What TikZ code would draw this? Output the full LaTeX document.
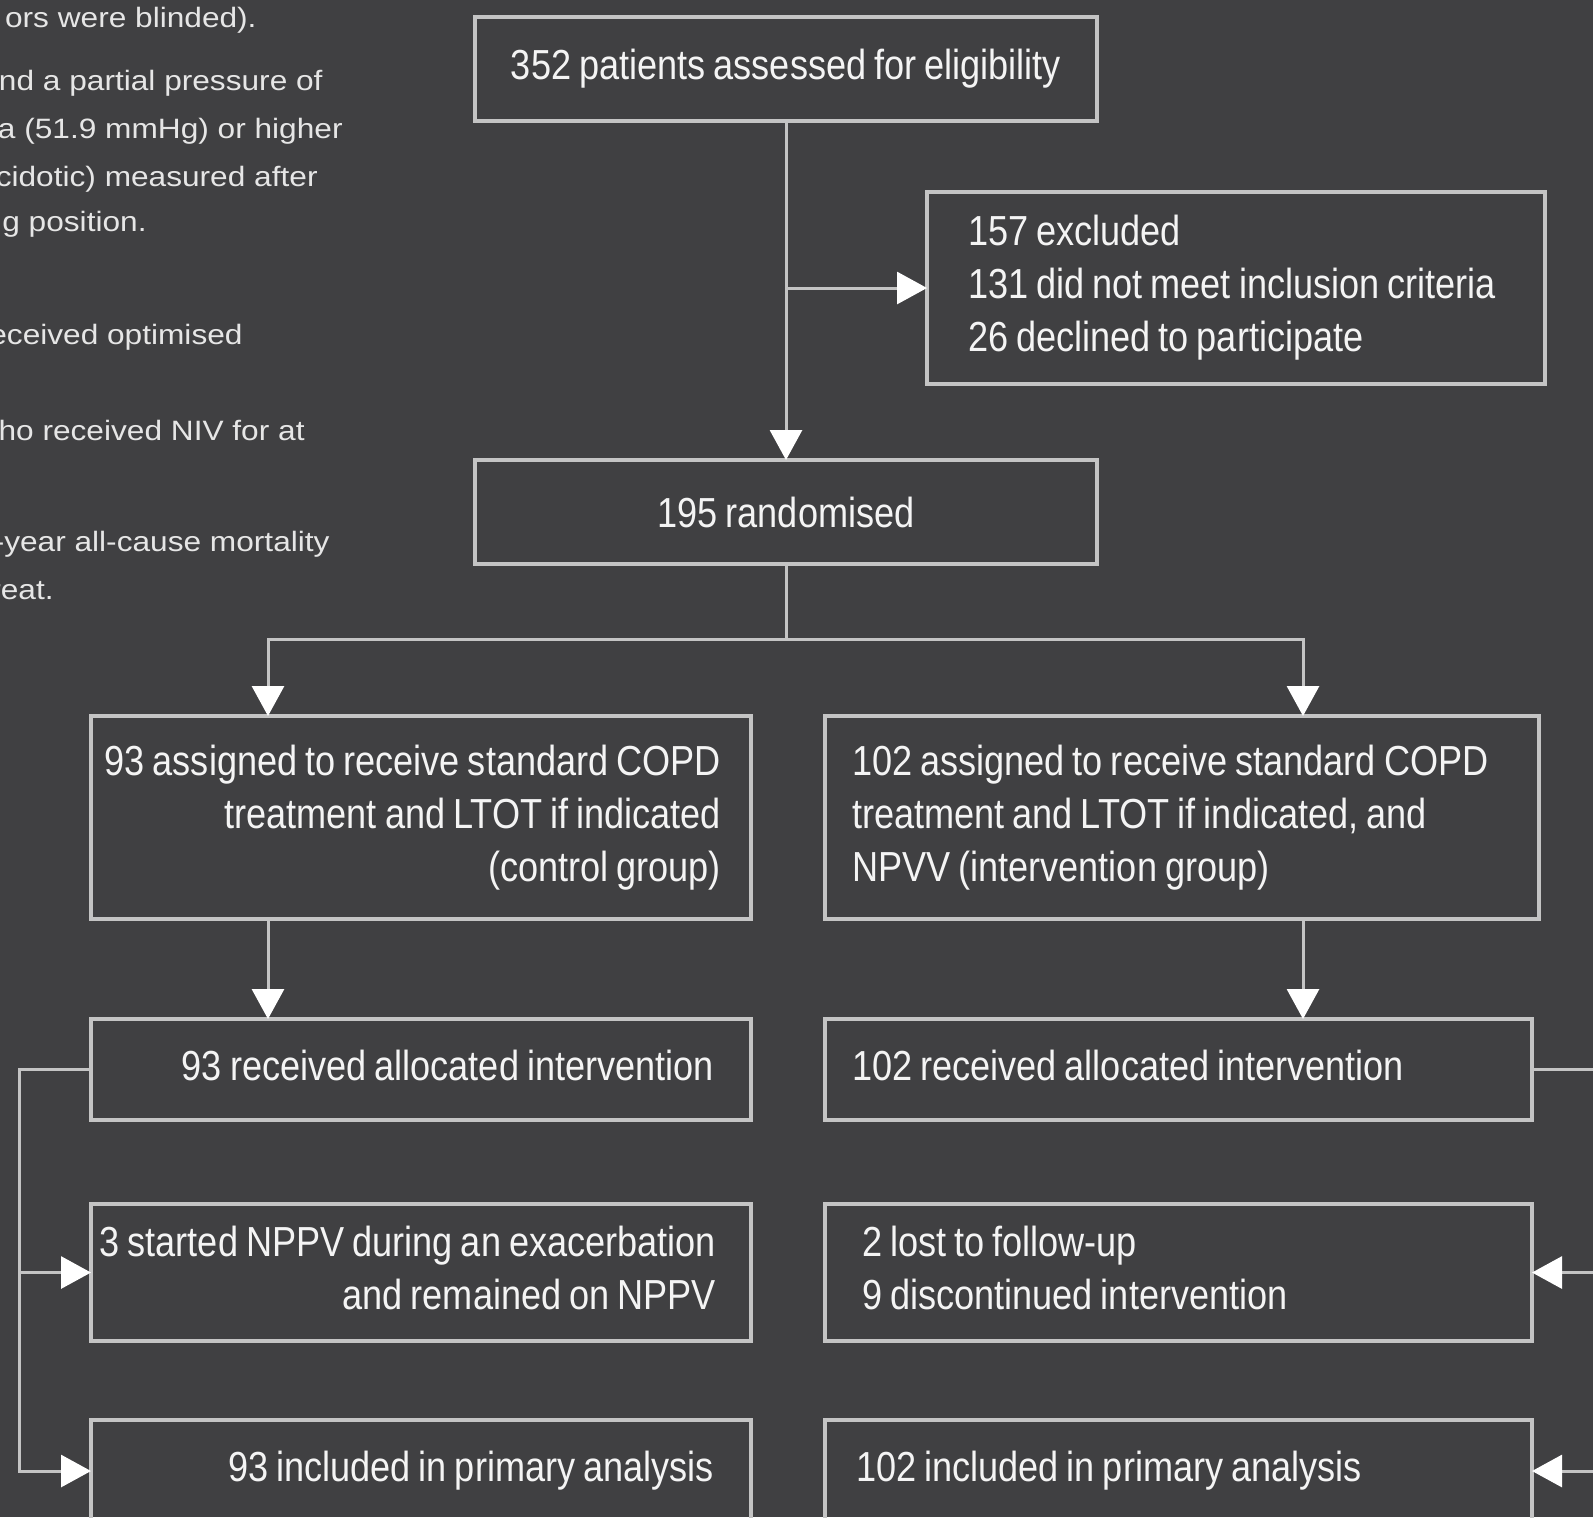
\documentclass[tikz,border=0pt]{standalone}
\usepackage{fontspec}
\usetikzlibrary{arrows.meta}
\newfontfamily\boxfont[FakeStretch=0.86,WordSpace=0.8]{Liberation Sans}
\newfontfamily\sidefont[FakeStretch=1.13]{Liberation Sans}
\definecolor{bg}{HTML}{404042}
\definecolor{linecol}{HTML}{C4C4C4}
\definecolor{txtcol}{HTML}{F4F4F4}
\definecolor{sidecol}{HTML}{E6E6E6}
\newcommand{\rblock}[2]{\makebox[#1][r]{\begin{tabular}{@{}r@{}}#2\end{tabular}}}
\newcommand{\lblock}[2]{\makebox[#1][l]{\begin{tabular}{@{}l@{}}#2\end{tabular}}}
\tikzset{
  flowbox/.style={draw=linecol, line width=1.6pt, text=txtcol, inner sep=0pt, outer sep=0pt,
    anchor=north west, font=\boxfont\fontsize{21pt}{26.5pt}\selectfont},
  conn/.style={draw=linecol, line width=1.5pt},
  tipd/.style={-{Triangle[length=15pt,width=16pt,color=white]}},
  sidetxt/.style={anchor=base east, inner sep=0pt, text=sidecol, font=\sidefont\fontsize{14pt}{17pt}\selectfont}
}
\begin{document}
\begin{tikzpicture}[x=0.5pt,y=-0.5pt]
\useasboundingbox (0,0) rectangle (1593,1517);
\fill[bg] (0,0) rectangle (1593,1517);
\clip (0,0) rectangle (1593,1517);

% side text (cut at the left edge)
\node[sidetxt] (s1) at (257,27) {ors were blinded).};
\node[sidetxt] (s2) at (323,90) {nd a partial pressure of};
\node[sidetxt] (s3) at (343,138) {Pa (51.9 mmHg) or higher};
\node[sidetxt] (s4) at (318,186) {cidotic) measured after};
\node[sidetxt] (s5) at (147,231) {g position.};
\node[sidetxt] (s6) at (243,344) {eceived optimised};
\node[sidetxt] (s7) at (305,440) {ho received NIV for at};
\node[sidetxt] (s8) at (330,551) {-year all-cause mortality};
\node[sidetxt] (s9) at (54,599) {reat.};

% boxes
\node[flowbox, minimum width=311pt, minimum height=52pt] (box1) at (475,17)
  {352 patients assessed for eligibility};
\node[flowbox, minimum width=309pt, minimum height=96pt] (excl) at (927,192)
  {\lblock{268pt}{157 excluded\\131 did not meet inclusion criteria\\26 declined to participate}};
\node[flowbox, minimum width=311pt, minimum height=52pt] (rand) at (475,460)
  {195 randomised};
\node[flowbox, minimum width=330pt, minimum height=101.5pt] (ctrl) at (91,716)
  {\rblock{300pt}{93 assigned to receive standard COPD\\treatment and LTOT if indicated\\(control group)}};
\node[flowbox, minimum width=357pt, minimum height=101.5pt] (intv) at (825,716)
  {\lblock{330pt}{102 assigned to receive standard COPD\\treatment and LTOT if indicated, and\\NPVV (intervention group)}};
\node[flowbox, minimum width=330pt, minimum height=50.5pt] (recL) at (91,1019)
  {\rblock{293pt}{93 received allocated intervention}};
\node[flowbox, minimum width=353.5pt, minimum height=50.5pt] (recR) at (825,1019)
  {\lblock{326.5pt}{102 received allocated intervention}};
\node[flowbox, minimum width=330pt, minimum height=68.5pt] (nppv) at (91,1204)
  {\rblock{295pt}{3 started NPPV during an exacerbation\\and remained on NPPV}};
\node[flowbox, minimum width=353.5pt, minimum height=68.5pt] (lost) at (825,1204)
  {\lblock{316.5pt}{2 lost to follow-up\\9 discontinued intervention}};
\node[flowbox, minimum width=330pt, minimum height=51pt] (inclL) at (91,1420)
  {\rblock{293pt}{93 included in primary analysis}};
\node[flowbox, minimum width=353.5pt, minimum height=51pt] (inclR) at (825,1420)
  {\lblock{322.5pt}{102 included in primary analysis}};

% connectors
\coordinate (jL) at (268,639);
\coordinate (jR) at (1303,639);
\coordinate (lx) at (19,0);
\coordinate (rx) at (1650,0);

\draw[conn,tipd] (box1.south) -- (rand.north);
\draw[conn,tipd] (box1.south |- excl.west) -- (excl.west);
\draw[conn] (rand.south) -- (rand.south |- jL);
\draw[conn,tipd] (rand.south |- jL) -- (jL) -- (jL |- ctrl.north);
\draw[conn,tipd] (rand.south |- jL) -- (jR) -- (jR |- intv.north);
\draw[conn,tipd] (jL |- ctrl.south) -- (jL |- recL.north);
\draw[conn,tipd] (jR |- intv.south) -- (jR |- recR.north);

\draw[conn,tipd] (recL.west) -- (lx |- recL.west) -- (lx |- inclL.west) -- (inclL.west);
\draw[conn,tipd] (lx |- nppv.west) -- (nppv.west);
\draw[conn,tipd] (recR.east) -- (rx |- recR.east) -- (rx |- inclR.east) -- (inclR.east);
\draw[conn,tipd] (rx |- lost.east) -- (lost.east);
\end{tikzpicture}
\end{document}
